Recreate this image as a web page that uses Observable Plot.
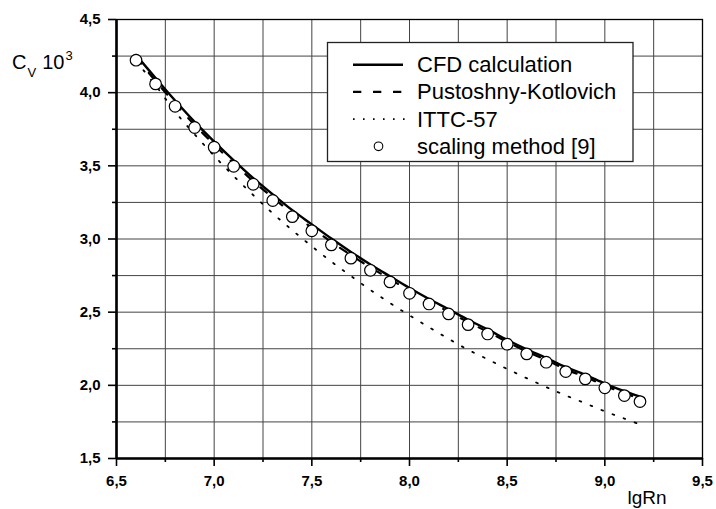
<!DOCTYPE html>
<html><head><meta charset="utf-8">
<script src="https://cdn.jsdelivr.net/npm/d3@7"></script>
<script src="https://cdn.jsdelivr.net/npm/@observablehq/plot@0.6"></script>
<style>
body{margin:0;background:#fff}
#chart{width:716px;height:509px}
</style>
</head><body><div id="chart"></div>
<script>
// lgRn values for the computed curves
const rnCurve = [6.6,6.7,6.8,6.9,7.0,7.1,7.2,7.3,7.4,7.5,7.6,7.7,7.8,7.9,8.0,8.1,8.2,8.3,8.4,8.5,8.6,8.7,8.8,8.9,9.0,9.1,9.2];
// CFD calculation (Cv * 10^3)
const cfd = [4.258,4.100,3.946,3.800,3.665,3.537,3.415,3.305,3.197,3.100,3.003,2.912,2.826,2.745,2.665,2.590,2.520,2.448,2.382,2.311,2.246,2.187,2.124,2.072,2.012,1.960,1.913];
// Pustoshny-Kotlovich
const pk = [4.240,4.080,3.925,3.780,3.645,3.517,3.395,3.283,3.175,3.077,2.980,2.890,2.806,2.726,2.647,2.573,2.503,2.432,2.366,2.297,2.231,2.173,2.109,2.058,1.998,1.946,1.900];
// ITTC-57
const rnIttc = [6.6,6.7,6.8,6.9,7.0,7.1,7.2,7.3,7.4,7.5,7.6,7.7,7.8,7.9,8.0,8.1,8.2,8.3,8.4,8.5,8.6,8.7,8.8,8.9,9.0,9.1,9.18];
const ittc = [4.215,4.050,3.870,3.715,3.568,3.430,3.300,3.175,3.060,2.950,2.845,2.747,2.652,2.562,2.478,2.397,2.318,2.243,2.178,2.112,2.049,1.988,1.931,1.877,1.822,1.773,1.732];
// scaling method [9]
const rnScale = [6.6,6.7,6.8,6.9,7.0,7.1,7.2,7.3,7.4,7.5,7.6,7.7,7.8,7.9,8.0,8.1,8.2,8.3,8.4,8.5,8.6,8.7,8.8,8.9,9.0,9.1,9.18];
const scaling = [4.222,4.060,3.907,3.762,3.627,3.497,3.374,3.263,3.153,3.056,2.960,2.869,2.786,2.707,2.629,2.556,2.488,2.415,2.351,2.281,2.215,2.158,2.094,2.044,1.983,1.930,1.889];

// axis ticks
const xMajor = [6.5,7.0,7.5,8.0,8.5,9.0,9.5];
const xMinor = [6.75,7.25,7.75,8.25,8.75,9.25];
const yMajor = [1.5,2.0,2.5,3.0,3.5,4.0,4.5];
const yMinor = [1.75,2.25,2.75,3.25,3.75,4.25];
const xGrid = [6.75,7.0,7.25,7.5,7.75,8.0,8.25,8.5,8.75,9.0,9.25];
const yGrid = [1.75,2.0,2.25,2.5,2.75,3.0,3.25,3.5,3.75,4.0,4.25];

const legendLabels = ["CFD calculation","Pustoshny-Kotlovich","ITTC-57","scaling method [9]"];
const xTitle = "lgRn";

const font = "'Liberation Sans', Arial, Helvetica, sans-serif";
const fmt = d => d3.format(".1f")(d).replace(".", ",");
const toRows = (xs, ys) => xs.map((x, i) => ({x, y: ys[i]}));

const DASH = "8.3,11.7";
const DOT = "1.8,10";

const chart = Plot.plot({
  width: 716, height: 509,
  marginLeft: 116, marginRight: 14, marginTop: 19, marginBottom: 51,
  style: {fontFamily: font, background: "white", overflow: "visible"},
  x: {domain: [6.5, 9.5]},
  y: {domain: [1.5, 4.5]},
  marks: [
    Plot.gridX(xGrid, {stroke: "#444", strokeOpacity: 1, strokeWidth: 1}),
    Plot.gridY(yGrid, {stroke: "#444", strokeOpacity: 1, strokeWidth: 1}),
    Plot.frame({stroke: "black", strokeWidth: 1.3}),
    Plot.axisX(xMajor, {tickSize: 8, tickPadding: 9, tickFormat: fmt, fontSize: 15, fontWeight: "bold", label: null, strokeWidth: 1.6, fill: "#000"}),
    Plot.axisX(xMinor, {tickSize: 4, tickFormat: () => "", label: null, strokeWidth: 1.6}),
    Plot.axisY(yMajor, {tickSize: 8, tickPadding: 8, tickFormat: fmt, fontSize: 15, fontWeight: "bold", label: null, strokeWidth: 1.6, fill: "#000"}),
    Plot.axisY(yMinor, {tickSize: 4, tickFormat: () => "", label: null, strokeWidth: 1.6}),
    Plot.ruleX([6.5], {stroke: "black", strokeWidth: 2.6}),
    Plot.ruleY([1.5], {stroke: "black", strokeWidth: 2.6}),
    Plot.line(toRows(rnIttc, ittc), {x: "x", y: "y", stroke: "black", strokeWidth: 1.8, strokeDasharray: DOT, curve: "catmull-rom"}),
    Plot.line(toRows(rnCurve, pk), {x: "x", y: "y", stroke: "black", strokeWidth: 2.2, strokeDasharray: DASH, curve: "catmull-rom"}),
    Plot.line(toRows(rnCurve, cfd), {x: "x", y: "y", stroke: "black", strokeWidth: 2.4, curve: "catmull-rom"}),
    Plot.dot(toRows(rnScale, scaling), {x: "x", y: "y", r: 5.8, fill: "white", stroke: "black", strokeWidth: 1.2}),
    Plot.text([xTitle], {frameAnchor: "bottom-right", dx: -75, dy: 45, lineAnchor: "bottom", textAnchor: "start", fontSize: 19, fill: "black"})
  ]
});
document.getElementById("chart").appendChild(chart);

const svg = d3.select(chart);
// y-axis title: C_V 10^3
const t = svg.append("text").attr("x", 12).attr("y", 68.5).attr("font-size", 20).attr("font-family", font)
  .attr("fill", "black").attr("text-anchor", "start");
t.append("tspan").text("C");
t.append("tspan").attr("font-size", 13).attr("dy", 8).attr("dx", 1).text("V");
t.append("tspan").attr("dy", -8).attr("dx", 6).text("10");
t.append("tspan").attr("font-size", 13).attr("dy", -8.5).attr("dx", 1).text("3");

// legend
const lg = svg.append("g").attr("font-family", font).attr("text-anchor", "start");
lg.append("rect").attr("x", 327.5).attr("y", 42.5).attr("width", 305.5).attr("height", 119)
  .attr("fill", "white").attr("stroke", "#222").attr("stroke-width", 1.3);
const rowBase = [72.2, 99.4, 126.6, 153.8];
legendLabels.forEach((lab, i) => {
  const yb = rowBase[i], yl = yb - 7.5;
  if (i === 0) lg.append("line").attr("x1", 353).attr("x2", 403).attr("y1", yl).attr("y2", yl).attr("stroke", "black").attr("stroke-width", 2.4);
  if (i === 1) lg.append("line").attr("x1", 353).attr("x2", 403).attr("y1", yl).attr("y2", yl).attr("stroke", "black").attr("stroke-width", 2.2).attr("stroke-dasharray", DASH);
  if (i === 2) lg.append("line").attr("x1", 353).attr("x2", 405).attr("y1", yl).attr("y2", yl).attr("stroke", "black").attr("stroke-width", 1.6).attr("stroke-dasharray", "1.6,8.4");
  if (i === 3) lg.append("circle").attr("cx", 378.5).attr("cy", yl).attr("r", 4.3).attr("fill", "white").attr("stroke", "black").attr("stroke-width", 1.1);
  lg.append("text").attr("x", 417).attr("y", yb).attr("font-size", 22).attr("fill", "black").attr("text-anchor", "start").text(lab);
});
</script>
</body></html>
